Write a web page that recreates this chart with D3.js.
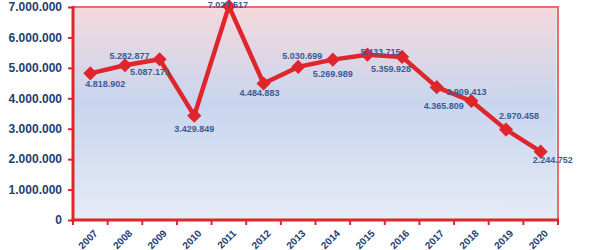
<!DOCTYPE html>
<html>
<head>
<meta charset="utf-8">
<script src="https://cdn.jsdelivr.net/npm/d3@7"></script>
<style>
  body { margin: 0; background: #fff; }
  svg { display: block; font-family: "Liberation Sans", Arial, sans-serif; }
</style>
</head>
<body>
<script>
// chart data
const years = ["2007", "2008", "2009", "2010", "2011", "2012", "2013",
               "2014", "2015", "2016", "2017", "2018", "2019", "2020"];
const values = [4818902, 5087171, 5282877, 3429849, 7027517, 4484883, 5030699,
                5269989, 5433715, 5359928, 4365809, 3909413, 2970458, 2244752];
const yTicks = [0, 1000000, 2000000, 3000000, 4000000, 5000000, 6000000, 7000000];

// where each value label sits relative to its point (dx, dy in px)
const labelDx = [15, 25, -30, 0, -1, -4, 4, 0, 13, -11, 7, -5, 13, 12];
const labelDy = [11, 7, -3, 14, -1, 10, -10, 15, -2, 13, 19, -8, -13, 9];

const width = 600, height = 250;
const margin = {top: 7, right: 42, bottom: 30, left: 73};
const red = "#e0262c";
const navy = "#1f3d73";

const svg = d3.select("body").append("svg")
  .attr("width", width)
  .attr("height", height);

// number format with dots as thousands separator
const fmt = d3.formatLocale({decimal: ",", thousands: ".", grouping: [3], currency: ["", ""]}).format(",d");

const x = d3.scaleBand()
  .domain(years)
  .range([margin.left, width - margin.right]);

const y = d3.scaleLinear()
  .domain([0, 7000000])
  .range([height - margin.bottom, margin.top]);

// background gradient of plot area
const grad = svg.append("defs").append("linearGradient")
  .attr("id", "bg")
  .attr("x1", 0).attr("y1", 0).attr("x2", 0).attr("y2", 1);
grad.append("stop").attr("offset", "0%").attr("stop-color", "#f4d9dc");
grad.append("stop").attr("offset", "45%").attr("stop-color", "#c8d5ee");
grad.append("stop").attr("offset", "100%").attr("stop-color", "#e6ebf6");

const x0 = margin.left, x1 = width - margin.right;
const y0 = y(0), y1 = y(7000000);

svg.append("rect")
  .attr("x", x0).attr("y", y1)
  .attr("width", x1 - x0).attr("height", y0 - y1)
  .attr("fill", "url(#bg)");

// light inner edge on the right and bottom
svg.append("path")
  .attr("d", `M${x1 - 1.5},${y1 + 1}V${y0 - 1.5}H${x0}`)
  .attr("fill", "none")
  .attr("stroke", "#d6f3f7")
  .attr("stroke-width", 1);

// thin frame top and right
svg.append("path")
  .attr("d", `M${x0},${y1}H${x1}V${y0}`)
  .attr("fill", "none")
  .attr("stroke", "#ea6a70")
  .attr("stroke-width", 2);

// y axis
const yAxis = d3.axisLeft(y)
  .tickValues(yTicks)
  .tickFormat(fmt)
  .tickSize(5)
  .tickPadding(6);
const gy = svg.append("g")
  .attr("transform", `translate(${x0},0)`)
  .call(yAxis);
gy.select(".domain").attr("stroke", red).attr("stroke-width", 3)
  .attr("d", `M0,${y1 - 1}V${y0 + 1.5}`);
gy.selectAll(".tick line").attr("stroke", red).attr("stroke-width", 2);
gy.selectAll(".tick text")
  .attr("fill", navy)
  .style("font-size", "12px")
  .style("font-weight", "bold");

// x axis, ticks on the band edges
const gx = svg.append("g")
  .attr("transform", `translate(0,${y0})`);
gx.append("line")
  .attr("x1", x0 - 1.5).attr("x2", x1 + 1)
  .attr("stroke", red).attr("stroke-width", 3);
gx.selectAll(".edge")
  .data(years.concat(["end"]))
  .enter()
  .append("line")
    .attr("x1", (d, i) => x0 + i * x.bandwidth())
    .attr("x2", (d, i) => x0 + i * x.bandwidth())
    .attr("y1", 0).attr("y2", 5)
    .attr("stroke", red).attr("stroke-width", 2);
gx.selectAll(".xlabel")
  .data(years)
  .enter()
  .append("text")
    .attr("transform", (d) => `translate(${x(d) + x.bandwidth() / 2 + 3},${9}) rotate(-45)`)
    .attr("text-anchor", "end")
    .attr("dy", "0.7em")
    .attr("fill", navy)
    .style("font-size", "10px")
    .style("font-weight", "bold")
    .text((d) => d);

// line and markers
const pts = years.map((yr, i) => ({year: yr, value: values[i], i: i}));
const cx = (d) => x(d.year) + x.bandwidth() / 2;
const cy = (d) => y(d.value);

svg.append("path")
  .datum(pts)
  .attr("fill", "none")
  .attr("stroke", red)
  .attr("stroke-width", 4.5)
  .attr("stroke-linejoin", "round")
  .attr("d", d3.line().x(cx).y(cy));

svg.selectAll(".marker")
  .data(pts)
  .enter()
  .append("path")
    .attr("d", d3.symbol().type(d3.symbolSquare).size(100))
    .attr("transform", (d) => `translate(${cx(d)},${cy(d)}) rotate(45)`)
    .attr("fill", red);

// value labels
svg.selectAll(".vlabel")
  .data(pts)
  .enter()
  .append("text")
    .attr("x", (d) => cx(d) + labelDx[d.i])
    .attr("y", (d) => cy(d) + labelDy[d.i])
    .attr("text-anchor", "middle")
    .attr("dominant-baseline", "middle")
    .attr("fill", "#3a5c94")
    .style("font-size", "9px")
    .style("font-weight", "bold")
    .text((d) => fmt(d.value));
</script>
</body>
</html>
